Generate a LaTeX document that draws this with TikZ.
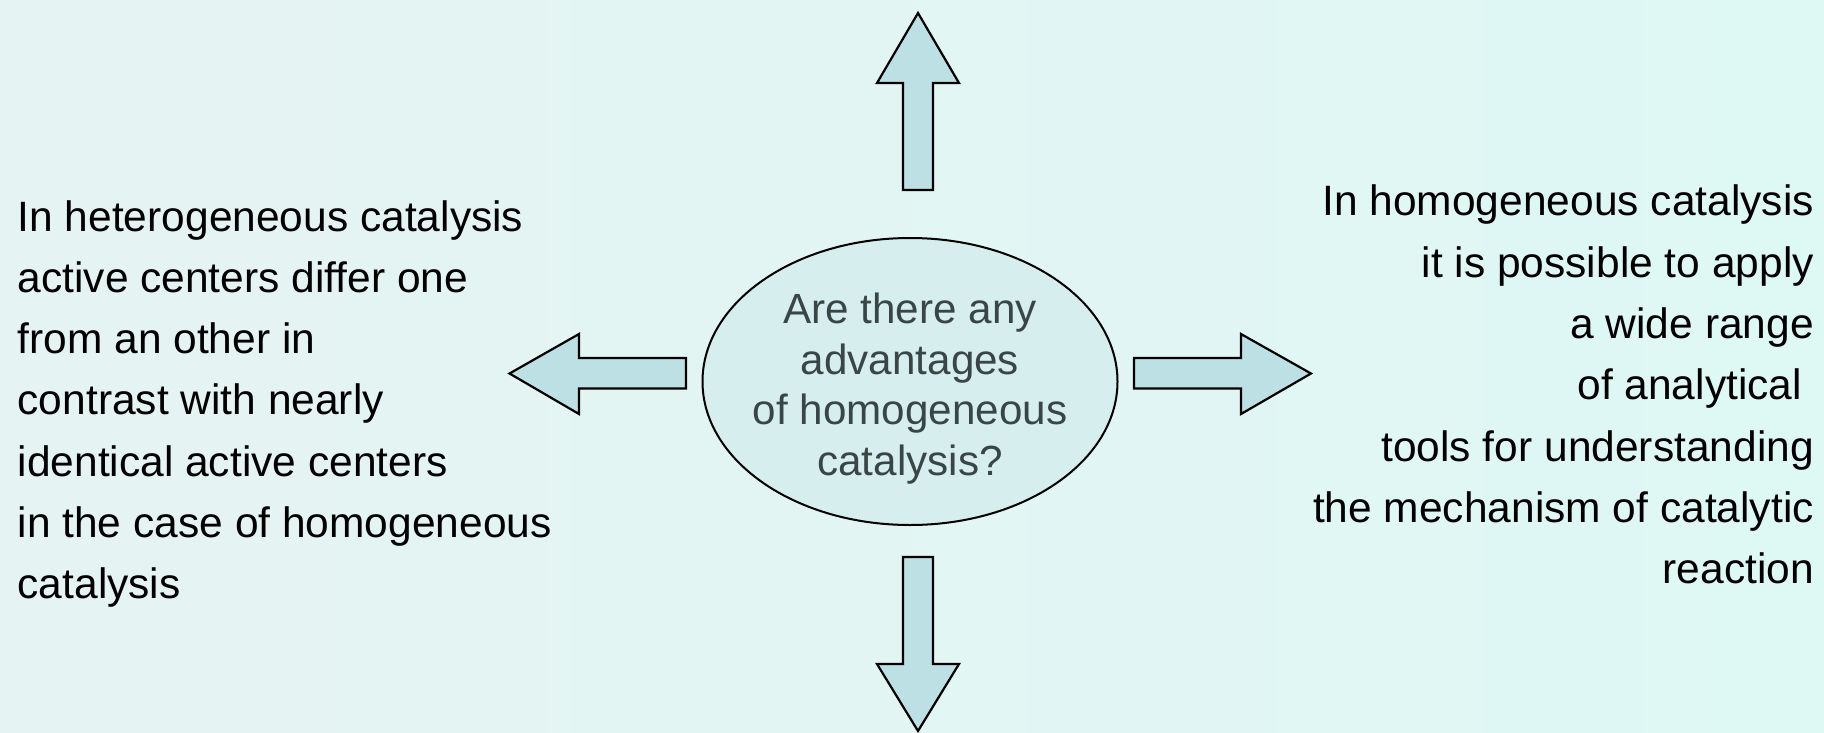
\documentclass[tikz,border=0pt]{standalone}
\usepackage{fontspec}
\setmainfont{Liberation Sans}
\usetikzlibrary{shapes.geometric}
\definecolor{bgL}{RGB}{230,243,243}
\definecolor{bgR}{RGB}{222,248,244}
\definecolor{ellfill}{RGB}{214,238,238}
\definecolor{arrfill}{RGB}{188,224,227}
\definecolor{qtext}{RGB}{58,70,70}
\tikzset{
  blockarrow/.style={draw=black, fill=arrfill, line width=2.2pt, line join=miter},
  sidetext/.style={inner sep=0pt, font=\fontsize{42.5}{61.3}\selectfont, text=black},
  question/.style={ellipse, draw=black, line width=2pt, fill=ellfill, minimum width=415pt, minimum height=287pt, inner sep=0pt},
  qtextstyle/.style={inner sep=0pt, align=center, text=qtext, font=\fontsize{42.2}{50.5}\selectfont}
}
\begin{document}
\begin{tikzpicture}[x=1pt, y=-1pt]
\useasboundingbox (0,0) rectangle (1824,732);
\shade[left color=bgL, right color=bgR] (0,0) rectangle (1824,732);
% central question
\node[question] (q) at (910,381.5) {};
\node[qtextstyle] (qt) at (910,388.5) {Are there any\\advantages\\of homogeneous\\catalysis?};
% block arrows
\draw[blockarrow] (903,190) -- (903,83) -- (877,83) -- (918,13) -- (959,83) -- (933,83) -- (933,190) -- cycle;
\draw[blockarrow] (903,557) -- (903,664) -- (877,664) -- (918,731) -- (959,664) -- (933,664) -- (933,557) -- cycle;
\draw[blockarrow] (686,358) -- (579,358) -- (579,334) -- (509.5,373.5) -- (579,414) -- (579,388.5) -- (686,388.5) -- cycle;
\draw[blockarrow] (1134,358) -- (1241,358) -- (1241,334) -- (1311,373.5) -- (1241,414) -- (1241,388.5) -- (1134,388.5) -- cycle;
% side texts
\node[sidetext, anchor=west, align=left] (lt) at (17.5,404) {In heterogeneous catalysis\\active centers differ one\\from an other in\\contrast with nearly\\identical active centers\\in the case of homogeneous\\catalysis};
\node[sidetext, anchor=east, align=right] (rt) at (1814,384.5) {In homogeneous catalysis\\it is possible to apply\\a wide range\\of analytical\kern0.28em\\tools for understanding\\the mechanism of catalytic\\reaction};
\end{tikzpicture}
\end{document}
